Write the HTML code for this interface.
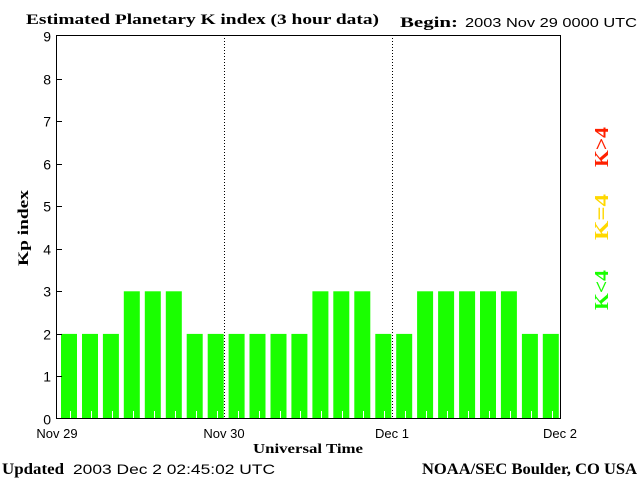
<!DOCTYPE html>
<html><head><meta charset="utf-8"><style>
html,body{margin:0;padding:0;background:#fff;}
svg{display:block;}
.s{font-family:"Liberation Serif",serif;font-weight:bold;}
.n{font-family:"Liberation Sans",sans-serif;}
</style></head><body>
<svg width="640" height="480" viewBox="0 0 640 480" xmlns="http://www.w3.org/2000/svg">
<rect width="640" height="480" fill="#fff"/>
<text x="26" y="24" class="s" font-size="15" textLength="353" lengthAdjust="spacingAndGlyphs">Estimated Planetary K index (3 hour data)</text>
<text x="400" y="27" class="s" font-size="15" textLength="58" lengthAdjust="spacingAndGlyphs">Begin:</text>
<text x="465" y="27" class="n" font-size="13" textLength="172" lengthAdjust="spacingAndGlyphs">2003 Nov 29 0000 UTC</text>
<g id="bars" fill="#1aff00"></g>
<line x1="224.5" y1="35" x2="224.5" y2="419" stroke="#000" stroke-dasharray="1,2"/>
<line x1="392.5" y1="35" x2="392.5" y2="419" stroke="#000" stroke-dasharray="1,2"/>
<rect x="56.5" y="35.5" width="504" height="383" fill="none" stroke="#000"/>
<g id="ticks" stroke="#fff"></g>
<g id="yt" stroke="#000"></g>
<g class="n" font-size="14" text-anchor="end" id="yl"></g>
<text x="28" y="228" class="s" font-size="15" text-anchor="middle" textLength="76" lengthAdjust="spacingAndGlyphs" transform="rotate(-90 28 228)">Kp index</text>
<g class="n" font-size="13" text-anchor="middle">
<text x="57" y="438">Nov 29</text>
<text x="224" y="438">Nov 30</text>
<text x="392" y="438">Dec 1</text>
<text x="560" y="438">Dec 2</text>
</g>
<text x="253" y="453" class="s" font-size="14" textLength="110" lengthAdjust="spacingAndGlyphs">Universal Time</text>
<text x="2" y="474" class="s" font-size="16" textLength="62" lengthAdjust="spacingAndGlyphs">Updated</text>
<text x="73" y="474" class="n" font-size="14" textLength="202" lengthAdjust="spacingAndGlyphs">2003 Dec  2 02:45:02 UTC</text>
<text x="422" y="474" class="s" font-size="16" textLength="215" lengthAdjust="spacingAndGlyphs">NOAA/SEC Boulder, CO USA</text>
<text x="608" y="147" class="s" font-size="20" fill="#ff2000" text-anchor="middle" textLength="40" lengthAdjust="spacingAndGlyphs" transform="rotate(-90 608 147)">K&gt;4</text>
<text x="608" y="217" class="s" font-size="20" fill="#ffd800" text-anchor="middle" textLength="46" lengthAdjust="spacingAndGlyphs" transform="rotate(-90 608 217)">K=4</text>
<text x="608" y="290" class="s" font-size="20" fill="#1aff00" text-anchor="middle" textLength="40" lengthAdjust="spacingAndGlyphs" transform="rotate(-90 608 290)">K&lt;4</text>
</svg>
<script>
var v=[2,2,2,3,3,3,2,2,2,2,2,2,3,3,3,2,2,3,3,3,3,3,2,2];
var ns="http://www.w3.org/2000/svg";
var b=document.getElementById("bars"),t=document.getElementById("ticks"),yt=document.getElementById("yt"),yl=document.getElementById("yl");
function el(n,a,p){var e=document.createElementNS(ns,n);for(var k in a)e.setAttribute(k,a[k]);p.appendChild(e);return e;}
var u=383/9;
for(var i=0;i<24;i++){var x=61+20.95*i;var h=v[i]*u;
el("rect",{x:x.toFixed(1),y:(419-h).toFixed(1),width:16,height:h.toFixed(1)},b);
var tx=Math.round(70+20.95*i)+0.5;el("line",{x1:tx,y1:411,x2:tx,y2:418},t);}
for(var k=0;k<=9;k++){var y=Math.round(419-k*u)+0.5;
if(k>0&&k<9)el("line",{x1:57,y1:y,x2:62,y2:y},yt);
var tt=el("text",{x:51,y:y+5},yl);tt.textContent=k;}
</script>
</body></html>
